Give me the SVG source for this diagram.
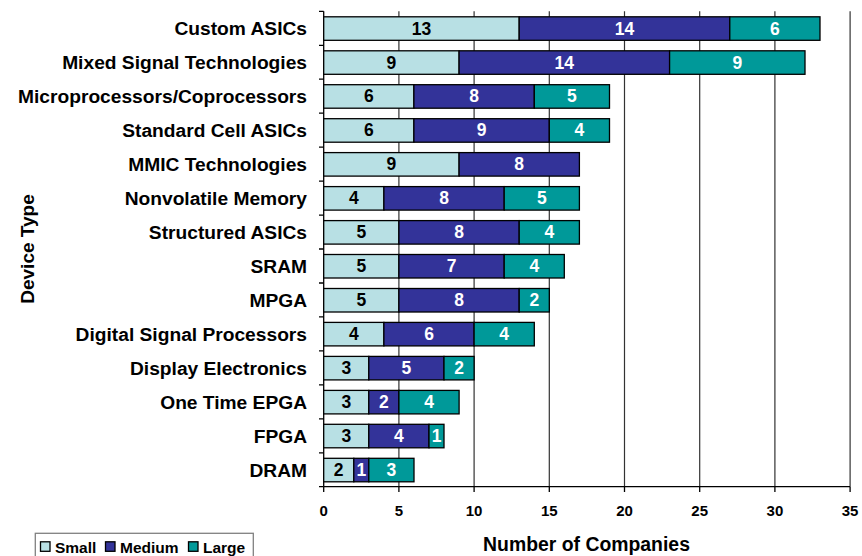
<svg xmlns="http://www.w3.org/2000/svg" width="862" height="556" viewBox="0 0 862 556">
<style>
text{font-family:"Liberation Sans",Arial,sans-serif;font-weight:bold;}
.cat{font-size:19.2px;text-anchor:end;fill:#000;}
.val{font-size:17.5px;text-anchor:middle;}
.vd{fill:#000;}
.vl{fill:#fff;}
.tick{font-size:15px;text-anchor:middle;fill:#000;}
.s{fill:#B8E0E4;stroke:#000;stroke-width:1.3;}
.m{fill:#333399;stroke:#000;stroke-width:1.3;}
.l{fill:#009999;stroke:#000;stroke-width:1.3;}
.grid{stroke:#333;stroke-width:1.2;}
.axis{stroke:#000;stroke-width:1.3;}
</style>
<rect width="862" height="556" fill="#fff"/>
<g id="grid">
<line class="grid" x1="398.9" y1="11.3" x2="398.9" y2="486.7"/>
<line class="grid" x1="474.1" y1="11.3" x2="474.1" y2="486.7"/>
<line class="grid" x1="549.3" y1="11.3" x2="549.3" y2="486.7"/>
<line class="grid" x1="624.5" y1="11.3" x2="624.5" y2="486.7"/>
<line class="grid" x1="699.7" y1="11.3" x2="699.7" y2="486.7"/>
<line class="grid" x1="774.9" y1="11.3" x2="774.9" y2="486.7"/>
<line class="grid" x1="850.1" y1="11.3" x2="850.1" y2="486.7" stroke="#777"/>
</g>
<g id="axes">
<line class="axis" x1="323.7" y1="11.3" x2="323.7" y2="486.7"/>
<line class="axis" x1="323.7" y1="486.7" x2="850.1" y2="486.7"/>
<path class="axis" fill="none" d="M319,11.3H323.7M319,45.3H323.7M319,79.2H323.7M319,113.2H323.7M319,147.1H323.7M319,181.1H323.7M319,215.1H323.7M319,249H323.7M319,283H323.7M319,316.9H323.7M319,350.9H323.7M319,384.9H323.7M319,418.8H323.7M319,452.8H323.7M319,486.7H323.7"/>
<path class="axis" fill="none" d="M323.7,486.7V492M398.9,486.7V492M474.1,486.7V492M549.3,486.7V492M624.5,486.7V492M699.7,486.7V492M774.9,486.7V492M850.1,486.7V492"/>
<text class="tick" x="323.7" y="516">0</text>
<text class="tick" x="398.9" y="516">5</text>
<text class="tick" x="474.1" y="516">10</text>
<text class="tick" x="549.3" y="516">15</text>
<text class="tick" x="624.5" y="516">20</text>
<text class="tick" x="699.7" y="516">25</text>
<text class="tick" x="774.9" y="516">30</text>
<text class="tick" x="850.1" y="516">35</text>
<text x="586.5" y="551" font-size="19.4" text-anchor="middle">Number of Companies</text>
<text transform="translate(34,249) rotate(-90)" font-size="19" text-anchor="middle">Device Type</text>
</g>
<g id="row-custom-asics">
<text class="cat" x="307" y="35">Custom ASICs</text>
<rect class="s" x="323.7" y="16.8" width="195.5" height="23.5"/>
<rect class="m" x="519.2" y="16.8" width="210.6" height="23.5"/>
<rect class="l" x="729.8" y="16.8" width="90.2" height="23.5"/>
<text class="val vd" x="421.5" y="34.5">13</text>
<text class="val vl" x="624.5" y="34.5">14</text>
<text class="val vl" x="774.9" y="34.5">6</text>
</g>
<g id="row-mixed-signal">
<text class="cat" x="307" y="69">Mixed Signal Technologies</text>
<rect class="s" x="323.7" y="50.8" width="135.4" height="23.5"/>
<rect class="m" x="459.1" y="50.8" width="210.5" height="23.5"/>
<rect class="l" x="669.6" y="50.8" width="135.4" height="23.5"/>
<text class="val vd" x="391.4" y="68.5">9</text>
<text class="val vl" x="564.3" y="68.5">14</text>
<text class="val vl" x="737.3" y="68.5">9</text>
</g>
<g id="row-microprocessors">
<text class="cat" x="307" y="103">Microprocessors/Coprocessors</text>
<rect class="s" x="323.7" y="84.7" width="90.2" height="23.5"/>
<rect class="m" x="413.9" y="84.7" width="120.4" height="23.5"/>
<rect class="l" x="534.3" y="84.7" width="75.2" height="23.5"/>
<text class="val vd" x="368.8" y="102.4">6</text>
<text class="val vl" x="474.1" y="102.4">8</text>
<text class="val vl" x="571.9" y="102.4">5</text>
</g>
<g id="row-standard-cell">
<text class="cat" x="307" y="137">Standard Cell ASICs</text>
<rect class="s" x="323.7" y="118.7" width="90.2" height="23.5"/>
<rect class="m" x="413.9" y="118.7" width="135.4" height="23.5"/>
<rect class="l" x="549.3" y="118.7" width="60.2" height="23.5"/>
<text class="val vd" x="368.8" y="136.4">6</text>
<text class="val vl" x="481.6" y="136.4">9</text>
<text class="val vl" x="579.4" y="136.4">4</text>
</g>
<g id="row-mmic">
<text class="cat" x="307" y="171">MMIC Technologies</text>
<rect class="s" x="323.7" y="152.6" width="135.4" height="23.5"/>
<rect class="m" x="459.1" y="152.6" width="120.3" height="23.5"/>
<text class="val vd" x="391.4" y="170.3">9</text>
<text class="val vl" x="519.2" y="170.3">8</text>
</g>
<g id="row-nonvolatile">
<text class="cat" x="307" y="205">Nonvolatile Memory</text>
<rect class="s" x="323.7" y="186.6" width="60.2" height="23.5"/>
<rect class="m" x="383.9" y="186.6" width="120.3" height="23.5"/>
<rect class="l" x="504.2" y="186.6" width="75.2" height="23.5"/>
<text class="val vd" x="353.8" y="204.3">4</text>
<text class="val vl" x="444" y="204.3">8</text>
<text class="val vl" x="541.8" y="204.3">5</text>
</g>
<g id="row-structured">
<text class="cat" x="307" y="239">Structured ASICs</text>
<rect class="s" x="323.7" y="220.6" width="75.2" height="23.5"/>
<rect class="m" x="398.9" y="220.6" width="120.3" height="23.5"/>
<rect class="l" x="519.2" y="220.6" width="60.2" height="23.5"/>
<text class="val vd" x="361.3" y="238.3">5</text>
<text class="val vl" x="459.1" y="238.3">8</text>
<text class="val vl" x="549.3" y="238.3">4</text>
</g>
<g id="row-sram">
<text class="cat" x="307" y="273">SRAM</text>
<rect class="s" x="323.7" y="254.5" width="75.2" height="23.5"/>
<rect class="m" x="398.9" y="254.5" width="105.3" height="23.5"/>
<rect class="l" x="504.2" y="254.5" width="60.1" height="23.5"/>
<text class="val vd" x="361.3" y="272.2">5</text>
<text class="val vl" x="451.5" y="272.2">7</text>
<text class="val vl" x="534.3" y="272.2">4</text>
</g>
<g id="row-mpga">
<text class="cat" x="307" y="307">MPGA</text>
<rect class="s" x="323.7" y="288.5" width="75.2" height="23.5"/>
<rect class="m" x="398.9" y="288.5" width="120.3" height="23.5"/>
<rect class="l" x="519.2" y="288.5" width="30.1" height="23.5"/>
<text class="val vd" x="361.3" y="306.2">5</text>
<text class="val vl" x="459.1" y="306.2">8</text>
<text class="val vl" x="534.3" y="306.2">2</text>
</g>
<g id="row-dsp">
<text class="cat" x="307" y="341">Digital Signal Processors</text>
<rect class="s" x="323.7" y="322.4" width="60.2" height="23.5"/>
<rect class="m" x="383.9" y="322.4" width="90.2" height="23.5"/>
<rect class="l" x="474.1" y="322.4" width="60.2" height="23.5"/>
<text class="val vd" x="353.8" y="340.1">4</text>
<text class="val vl" x="429" y="340.1">6</text>
<text class="val vl" x="504.2" y="340.1">4</text>
</g>
<g id="row-display">
<text class="cat" x="307" y="375">Display Electronics</text>
<rect class="s" x="323.7" y="356.4" width="45.1" height="23.5"/>
<rect class="m" x="368.8" y="356.4" width="75.2" height="23.5"/>
<rect class="l" x="444" y="356.4" width="30.1" height="23.5"/>
<text class="val vd" x="346.3" y="374.1">3</text>
<text class="val vl" x="406.4" y="374.1">5</text>
<text class="val vl" x="459.1" y="374.1">2</text>
</g>
<g id="row-one-time-epga">
<text class="cat" x="307" y="409">One Time EPGA</text>
<rect class="s" x="323.7" y="390.4" width="45.1" height="23.5"/>
<rect class="m" x="368.8" y="390.4" width="30.1" height="23.5"/>
<rect class="l" x="398.9" y="390.4" width="60.2" height="23.5"/>
<text class="val vd" x="346.3" y="408.1">3</text>
<text class="val vl" x="383.9" y="408.1">2</text>
<text class="val vl" x="429" y="408.1">4</text>
</g>
<g id="row-fpga">
<text class="cat" x="307" y="443">FPGA</text>
<rect class="s" x="323.7" y="424.3" width="45.1" height="23.5"/>
<rect class="m" x="368.8" y="424.3" width="60.2" height="23.5"/>
<rect class="l" x="429" y="424.3" width="15" height="23.5"/>
<text class="val vd" x="346.3" y="442">3</text>
<text class="val vl" x="398.9" y="442">4</text>
<text class="val vl" x="436.5" y="442">1</text>
</g>
<g id="row-dram">
<text class="cat" x="307" y="477">DRAM</text>
<rect class="s" x="323.7" y="458.3" width="30.1" height="23.5"/>
<rect class="m" x="353.8" y="458.3" width="15" height="23.5"/>
<rect class="l" x="368.8" y="458.3" width="45.2" height="23.5"/>
<text class="val vd" x="338.7" y="476">2</text>
<text class="val vl" x="361.3" y="476">1</text>
<text class="val vl" x="391.4" y="476">3</text>
</g>
<g id="legend">
<rect x="35.3" y="533.3" width="218" height="30" fill="#fff" stroke="#808080" stroke-width="1.3"/>
<rect class="s" x="40.5" y="541.8" width="9.5" height="9.5" stroke-width="1"/>
<text x="55" y="553" font-size="15.5">Small</text>
<rect class="m" x="105.5" y="541.8" width="9.5" height="9.5" stroke-width="1"/>
<text x="120" y="553" font-size="15.5">Medium</text>
<rect class="l" x="188.5" y="541.8" width="9.5" height="9.5" stroke-width="1"/>
<text x="203" y="553" font-size="15.5">Large</text>
</g>
</svg>
